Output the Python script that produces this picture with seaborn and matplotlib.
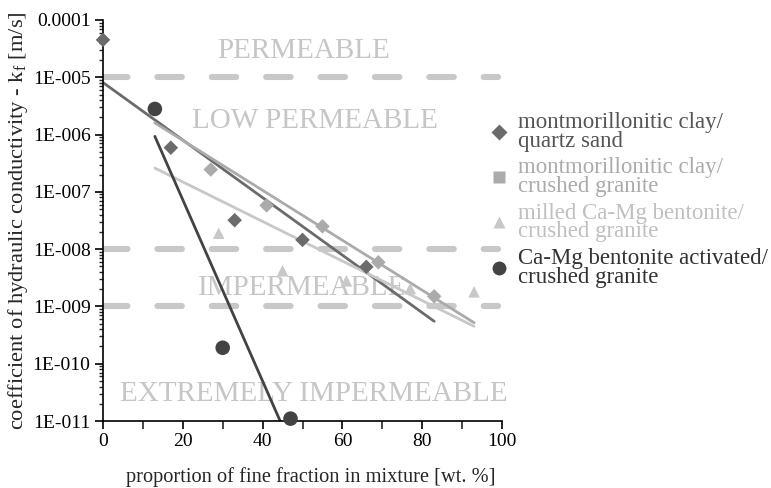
import numpy as np
import pandas as pd
import matplotlib
matplotlib.use("Agg")
import matplotlib.pyplot as plt
import matplotlib.ticker as mticker
from matplotlib.lines import Line2D
import seaborn as sns

# ---- data ----
qs_x = [0, 17, 33, 50, 66]
qs_k = [4.5e-5, 5.9e-7, 3.2e-8, 1.45e-8, 4.9e-9]
cg_x = [27, 41, 55, 69, 83]
cg_k = [2.45e-7, 5.8e-8, 2.5e-8, 5.9e-9, 1.5e-9]
mb_x = [29, 45, 61, 77, 93]
mb_k = [1.9e-8, 4.2e-9, 2.8e-9, 2.05e-9, 1.8e-9]
ab_x = [13, 30, 47]
ab_k = [2.8e-6, 1.9e-10, 1.1e-11]

# trend line endpoints
qs_tx = [0, 83]
qs_tk = [8.1e-6, 5.5e-10]
cg_tx = [13, 93]
cg_tk = [1.6e-6, 5.2e-10]
mb_tx = [13, 93]
mb_tk = [2.6e-7, 4.5e-10]
ab_tx = [13, 44.4]
ab_tk = [9.3e-7, 1.0e-11]

series_labels = ["montmorillonitic clay/\nquartz sand",
                 "montmorillonitic clay/\ncrushed granite",
                 "milled Ca-Mg bentonite/\ncrushed granite",
                 "Ca-Mg bentonite activated/\ncrushed granite"]

class_limits = [1e-5, 1e-8, 1e-9]
class_names = ["PERMEABLE", "LOW PERMEABLE", "IMPERMEABLE", "EXTREMELY IMPERMEABLE"]
class_x = [50.3, 53.0, 50.0, 52.9]
class_k = [2.9e-5, 1.7e-6, 2.1e-9, 3.0e-11]

y_ticks = [1e-4, 1e-5, 1e-6, 1e-7, 1e-8, 1e-9, 1e-10, 1e-11]
y_tick_labels = ["0.0001", "1E-005", "1E-006", "1E-007", "1E-008", "1E-009", "1E-010", "1E-011"]
x_ticks = [0, 20, 40, 60, 80, 100]

# ---- style ----
sns.set_style("ticks")
plt.rcParams['font.family'] = ['Liberation Serif', 'DejaVu Serif']
plt.rcParams['mathtext.fontset'] = 'custom'
plt.rcParams['mathtext.rm'] = 'Liberation Serif'
plt.rcParams['mathtext.it'] = 'Liberation Serif'

c_qs = "#6b6b6b"
c_cg = "#ababab"
c_mb = "#c8c8c8"
c_ab = "#434343"

fig = plt.figure(figsize=(7.71, 4.88), dpi=100)
ax = fig.add_axes([103/771, 1-421/488, 399/771, 401/488])

# classification lines
for lim in class_limits:
    ax.plot([0, 99], [lim, lim], color="#c8c8c8", lw=4.4,
            dashes=(4.0, 4.9), dash_capstyle="round", zorder=1)

for name, tx, tk in zip(class_names, class_x, class_k):
    ax.text(tx, tk, name, ha="center", va="center", fontsize=21,
            color="#c6c6c6", zorder=1.5, clip_on=False)

# trend lines
for tx, tk, c, lw in [(qs_tx, qs_tk, c_qs, 2.0), (cg_tx, cg_tk, c_cg, 2.0),
                      (mb_tx, mb_tk, c_mb, 2.0), (ab_tx, ab_tk, c_ab, 2.0)]:
    sns.lineplot(x=tx, y=tk, ax=ax, color=c, lw=lw, zorder=2, legend=False)

# points
sns.scatterplot(x=cg_x, y=cg_k, ax=ax, marker="D", s=55, color=c_cg,
                edgecolor="none", zorder=3, clip_on=False, legend=False)
sns.scatterplot(x=qs_x, y=qs_k, ax=ax, marker="D", s=55, color=c_qs,
                edgecolor="none", zorder=3, clip_on=False, legend=False)
sns.scatterplot(x=mb_x, y=mb_k, ax=ax, marker="^", s=70, color=c_mb,
                edgecolor="none", zorder=3, clip_on=False, legend=False)
sns.scatterplot(x=ab_x, y=ab_k, ax=ax, marker="o", s=110, color=c_ab,
                edgecolor="none", zorder=3, clip_on=False, legend=False)

ax.set_yscale("log")
ax.set_ylim(1e-11, 1e-4)
ax.set_xlim(0, 100)
ax.set_yticks(y_ticks)
ax.set_yticklabels(y_tick_labels)
ax.yaxis.set_minor_locator(mticker.LogLocator(base=10, subs=np.arange(2, 10)))
ax.yaxis.set_minor_formatter(mticker.NullFormatter())
ax.set_xticks(x_ticks)
ax.set_xticklabels([str(v) for v in x_ticks])
ax.xaxis.set_minor_locator(mticker.MultipleLocator(10))

ax.tick_params(axis="both", which="major", direction="out", length=6, width=1.2,
               labelsize=14, colors="black", pad=3)
ax.tick_params(axis="y", which="minor", direction="out", length=3, width=1.0)
ax.tick_params(axis="x", which="minor", direction="out", length=6, width=1.2)

for s in ["top", "right"]:
    ax.spines[s].set_visible(False)
for s in ["left", "bottom"]:
    ax.spines[s].set_linewidth(1.2)
    ax.spines[s].set_color("black")

ax.set_xlabel("proportion of fine fraction in mixture [wt. %]", fontsize=14.7)
ax.set_ylabel("coefficient of hydraulic conductivity - k$_\\mathrm{f}$ [m/s]", fontsize=16.2)
ax.xaxis.label.set_va("center")
ax.yaxis.label.set_va("center")
ax.xaxis.set_label_coords((311 - 103) / 399, (421 - 477) / 401)
ax.yaxis.set_label_coords((18 - 103) / 399, (421 - 221) / 401)

handles = [
    Line2D([], [], ls="none", marker="D", ms=8, color=c_qs, mec="none"),
    Line2D([], [], ls="none", marker="s", ms=9, color=c_cg, mec="none"),
    Line2D([], [], ls="none", marker="^", ms=8, color=c_mb, mec="none"),
    Line2D([], [], ls="none", marker="o", ms=10, color=c_ab, mec="none"),
]
leg = fig.legend(handles, series_labels, loc="upper left",
                 bbox_to_anchor=(488/771, 1-112/488), frameon=False,
                 prop={"family": "Liberation Serif", "size": 16.5},
                 handlelength=1.0, handletextpad=0.3, labelspacing=0.25,
                 borderpad=0, borderaxespad=0)
text_colors = ["#555555", "#ababab", "#c0c0c0", "#333333"]
for t, c in zip(leg.get_texts(), text_colors):
    t.set_color(c)
    t.set_linespacing(0.85)

fig.savefig("out.png", dpi=100)
